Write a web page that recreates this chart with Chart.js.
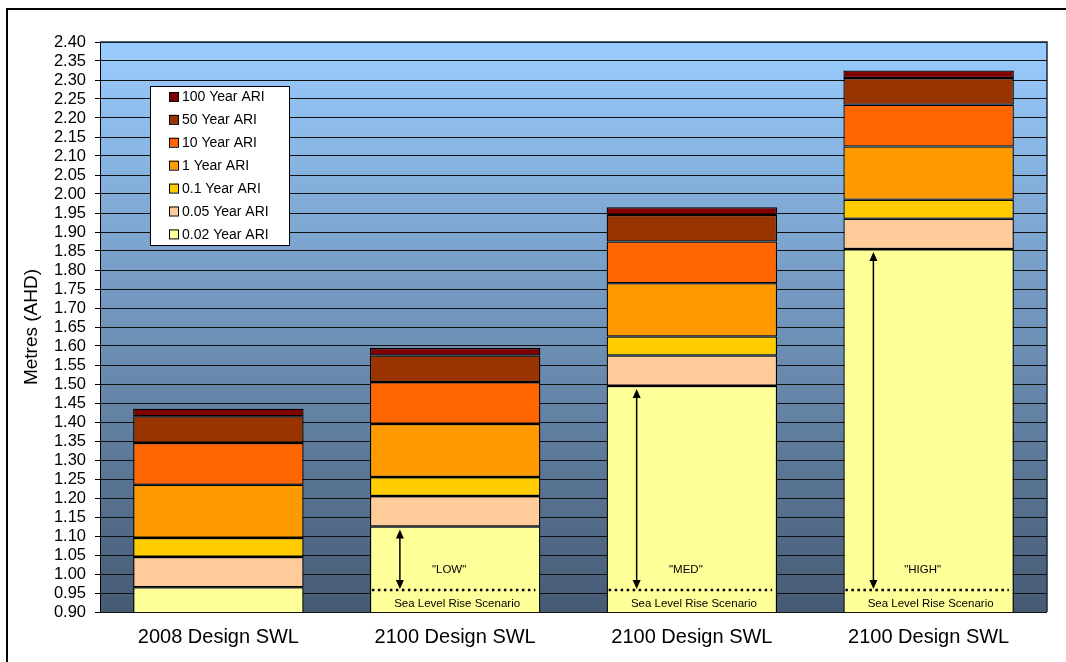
<!DOCTYPE html>
<html>
<head>
<meta charset="utf-8">
<script src="https://cdn.jsdelivr.net/npm/chart.js@4.4.0/dist/chart.umd.min.js"></script>
<style>
  html, body { margin: 0; padding: 0; background: #fff; }
  #wrap { width: 1066px; height: 662px; }
</style>
</head>
<body>
<div id="wrap"><canvas id="swlChart" width="1066" height="662"></canvas></div>
<script>
// values (metres AHD)
var categories = ['2008 Design SWL', '2100 Design SWL', '2100 Design SWL', '2100 Design SWL'];
var ariLabels = ['0.02 Year ARI', '0.05 Year ARI', '0.1 Year ARI', '1 Year ARI', '10 Year ARI', '50 Year ARI', '100 Year ARI'];
var ariColours = ['#FFFF99', '#FFCC99', '#FFCC00', '#FF9900', '#FF6600', '#993300', '#800000'];
var ari002 = [0.965, 1.125, 1.495, 1.855];
var ari005 = [0.08, 0.08, 0.08, 0.08];
var ari01 = [0.05, 0.05, 0.05, 0.05];
var ari1 = [0.14, 0.14, 0.14, 0.14];
var ari10 = [0.11, 0.11, 0.11, 0.11];
var ari50 = [0.07, 0.07, 0.07, 0.07];
var ari100 = [0.02, 0.02, 0.02, 0.02];
var scenarios = ['', '"LOW"', '"MED"', '"HIGH"'];
var seaLevelLine = 0.958;
var scenarioNote = 'Sea Level Rise Scenario';

var FONT = "'Liberation Sans', Arial, sans-serif";

var allSeries = [ari002, ari005, ari01, ari1, ari10, ari50, ari100];
var datasets = [];
for (var i = 0; i < allSeries.length; i++) {
  datasets.push({
    label: ariLabels[i],
    data: allSeries[i],
    backgroundColor: ariColours[i],
    borderColor: '#000',
    borderWidth: 1.3,
    borderSkipped: false,
    barPercentage: 0.9,
    categoryPercentage: 0.8
  });
}

function arrowHead(ctx, x, y, dir) {
  ctx.beginPath();
  ctx.moveTo(x, y);
  ctx.lineTo(x - 4, y - dir * 9);
  ctx.lineTo(x + 4, y - dir * 9);
  ctx.closePath();
  ctx.fill();
}

var extras = {
  id: 'extras',
  beforeDraw: function(chart) {
    var ctx = chart.ctx, a = chart.chartArea;
    var g = ctx.createLinearGradient(0, a.top, 0, a.bottom);
    g.addColorStop(0, '#99CCFF');
    g.addColorStop(1, '#465A73');
    ctx.save();
    ctx.fillStyle = g;
    ctx.fillRect(a.left, a.top, a.right - a.left, a.bottom - a.top);
    ctx.restore();
  },
  afterDatasetsDraw: function(chart) {
    var ctx = chart.ctx, a = chart.chartArea, y = chart.scales.y;
    var meta = chart.getDatasetMeta(0);
    var lineY = y.getPixelForValue(seaLevelLine);
    ctx.save();
    for (var i = 0; i < scenarios.length; i++) {
      if (!scenarios[i]) continue;
      var bar = meta.data[i];
      var left = bar.x - bar.width / 2, right = bar.x + bar.width / 2;
      // dotted line
      ctx.strokeStyle = '#000';
      ctx.lineWidth = 2.5;
      ctx.setLineDash([2.5, 3.5]);
      ctx.beginPath();
      ctx.moveTo(left + 2, lineY);
      ctx.lineTo(right - 5, lineY);
      ctx.stroke();
      ctx.setLineDash([]);
      // arrow
      var ax = left + 30;
      var topY = y.getPixelForValue(ari002[i]) + 3;
      var botY = lineY - 1;
      ctx.lineWidth = 1.5;
      ctx.beginPath();
      ctx.moveTo(ax, topY + 6);
      ctx.lineTo(ax, botY - 6);
      ctx.stroke();
      ctx.fillStyle = '#000';
      arrowHead(ctx, ax, topY, -1);
      arrowHead(ctx, ax, botY, 1);
      // labels
      ctx.font = '11.5px ' + FONT;
      ctx.textAlign = 'center';
      ctx.textBaseline = 'middle';
      ctx.fillStyle = '#000';
      ctx.fillText(scenarios[i], bar.x - 6, lineY - 20);
      ctx.fillText(scenarioNote, bar.x + 2, lineY + 14);
    }
    // plot area frame
    ctx.strokeStyle = '#1d2a38';
    ctx.lineWidth = 1.5;
    ctx.beginPath();
    ctx.moveTo(a.left, a.top);
    ctx.lineTo(a.right, a.top);
    ctx.lineTo(a.right, a.bottom);
    ctx.stroke();
    ctx.restore();
  },
  afterDraw: function(chart) {
    var ctx = chart.ctx;
    ctx.save();
    // legend box
    var bx = 150, by = 86, bw = 139, bh = 159;
    ctx.fillStyle = '#fff';
    ctx.fillRect(bx, by, bw, bh);
    ctx.strokeStyle = '#000';
    ctx.lineWidth = 1;
    ctx.strokeRect(bx + 0.5, by + 0.5, bw, bh);
    var ds = chart.data.datasets;
    ctx.font = '14px ' + FONT;
    ctx.textAlign = 'left';
    ctx.textBaseline = 'middle';
    for (var k = 0; k < ds.length; k++) {
      var d = ds[ds.length - 1 - k];
      var cy = 97 + k * 22.9;
      ctx.fillStyle = d.backgroundColor;
      ctx.fillRect(169, cy - 5, 9, 9);
      ctx.strokeStyle = '#000';
      ctx.strokeRect(169.5, cy - 4.5, 9, 9);
      ctx.fillStyle = '#000';
      ctx.fillText(d.label, 182, cy + 0.5);
    }
    // outer frame
    ctx.strokeStyle = '#000';
    ctx.lineWidth = 2;
    ctx.beginPath();
    ctx.moveTo(7, 662);
    ctx.lineTo(7, 9);
    ctx.lineTo(1066, 9);
    ctx.stroke();
    ctx.restore();
  }
};

new Chart(document.getElementById('swlChart'), {
  type: 'bar',
  data: { labels: categories, datasets: datasets },
  plugins: [extras],
  options: {
    responsive: false,
    animation: false,
    layout: { padding: { left: 0, top: 42, right: 19, bottom: 0 } },
    plugins: {
      legend: { display: false },
      tooltip: { enabled: false }
    },
    scales: {
      x: {
        stacked: true,
        grid: { display: false, drawTicks: false },
        border: { display: false },
        ticks: { color: '#000', font: { family: FONT, size: 20 }, padding: 13, maxRotation: 0 },
        afterFit: function(s) { s.height = 50; }
      },
      y: {
        stacked: true,
        min: 0.9,
        max: 2.4,
        grid: { color: '#111', lineWidth: 1, tickLength: 5, tickColor: '#000' },
        border: { display: true, color: '#000', width: 1 },
        ticks: {
          stepSize: 0.05,
          autoSkip: false,
          color: '#000',
          padding: 9,
          font: { family: FONT, size: 16.5 },
          callback: function(v) { return Number(v).toFixed(2); }
        },
        title: {
          display: true,
          text: 'Metres (AHD)',
          color: '#000',
          font: { family: FONT, size: 19 },
          padding: { top: 20, bottom: 0 }
        },
        afterFit: function(s) { s.width = 100; }
      }
    }
  }
});
</script>
</body>
</html>
